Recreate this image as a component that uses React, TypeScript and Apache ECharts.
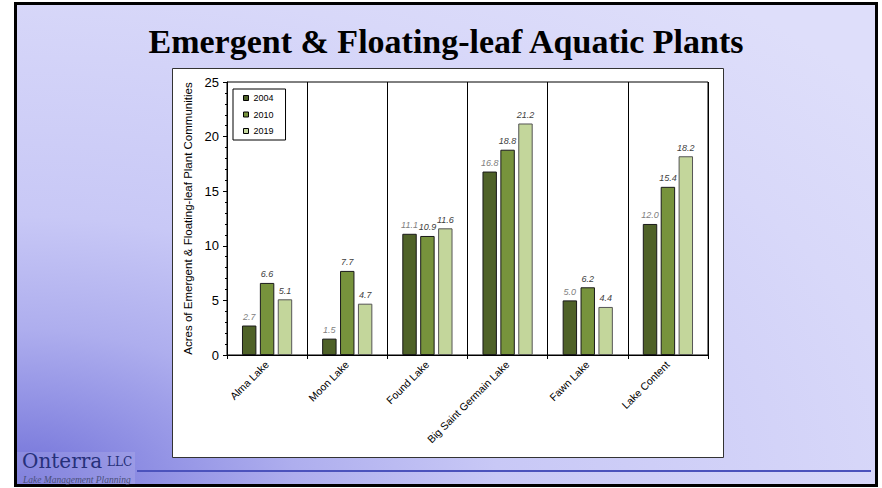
import React, { useEffect, useRef } from "react";
import * as echarts from "echarts";

const categories = [
  "Alma Lake",
  "Moon Lake",
  "Found Lake",
  "Big Saint Germain Lake",
  "Fawn Lake",
  "Lake Content",
];
const seriesNames = ["2004", "2010", "2019"];
const values2004 = [2.7, 1.5, 11.1, 16.8, 5.0, 12.0];
const values2010 = [6.6, 7.7, 10.9, 18.8, 6.2, 15.4];
const values2019 = [5.1, 4.7, 11.6, 21.2, 4.4, 18.2];
const yMin = 0;
const yMax = 25;
const yStep = 5;

const titleText = "Emergent & Floating-leaf Aquatic Plants";
const yAxisTitle = "Acres of Emergent & Floating-leaf Plant Communities";

const SANS = '"Liberation Sans", Arial, sans-serif';

export default function App() {
  const ref = useRef<HTMLDivElement>(null);

  useEffect(() => {
    if (!ref.current) return;
    const chart = echarts.init(ref.current, undefined, { renderer: "svg" });

    const colors = ["#4F6228", "#77933C", "#C3D69B"];
    const labelColors = ["#808080", "#404040", "#404040"];
    const borderColors = ["#1a1a1a", "#1a1a1a", "#555555"];
    const dataSets = [values2004, values2010, values2019];

    const series = seriesNames.map((name, i) => ({
      type: "bar",
      name,
      data: dataSets[i],
      barWidth: "18%",
      barGap: "24%",
      itemStyle: { color: colors[i], borderColor: borderColors[i], borderWidth: 1 },
      label: {
        show: true,
        position: "top",
        distance: 4,
        formatter: (p: any) => Number(p.value).toFixed(1),
        fontSize: 9,
        fontStyle: "italic",
        fontFamily: SANS,
        color: labelColors[i],
      },
    }));

    chart.setOption({
      animation: false,
      backgroundColor: "#ffffff",
      graphic: [
        {
          type: "rect",
          z: -20,
          shape: { x: 15.5, y: 3.5, width: 861, height: 482 },
          style: {
            fill: new echarts.graphic.RadialGradient(0, 1, 1.3, [
              { offset: 0, color: "#7070d8" },
              { offset: 0.15, color: "#9696e6" },
              { offset: 0.25, color: "#aeaeee" },
              { offset: 0.43, color: "#c8c8f6" },
              { offset: 0.8, color: "#d8d8f9" },
              { offset: 1, color: "#dedefa" },
            ]),
            stroke: "#000",
            lineWidth: 3,
          },
        },
        {
          type: "rect",
          z: -19,
          shape: { x: 17, y: 452, width: 118, height: 32 },
          style: { fill: "rgba(255,255,255,0.12)" },
        },
        {
          type: "line",
          z: -18,
          shape: { x1: 137, y1: 471, x2: 871, y2: 471 },
          style: { stroke: "#4b52bc", lineWidth: 2 },
        },
        {
          type: "text",
          z: -18,
          style: {
            text: "Onterra",
            x: 22,
            y: 471,
            textVerticalAlign: "bottom",
            font: '20px "DejaVu Serif", serif',
            fill: "#26307a",
          },
        },
        {
          type: "text",
          z: -18,
          style: {
            text: "LLC",
            x: 107,
            y: 468,
            textVerticalAlign: "bottom",
            font: '12px "DejaVu Serif", serif',
            fill: "#26307a",
          },
        },
        {
          type: "text",
          z: -18,
          style: {
            text: "Lake Management Planning",
            x: 23,
            y: 480,
            textVerticalAlign: "middle",
            font: 'italic 9.5px "Liberation Serif", serif',
            fill: "#4a4f7a",
          },
        },
        {
          type: "text",
          z: -18,
          style: {
            text: titleText,
            x: 446,
            y: 41,
            textAlign: "center",
            textVerticalAlign: "middle",
            font: 'bold 34px "Liberation Serif", serif',
            fill: "#000",
          },
        },
        {
          type: "rect",
          z: -17,
          shape: { x: 172.5, y: 68.5, width: 551, height: 389 },
          style: { fill: "#ffffff", stroke: "#333", lineWidth: 1 },
        },
      ],
      legend: {
        orient: "vertical",
        left: 233,
        top: 89,
        data: seriesNames,
        icon: "rect",
        itemWidth: 5,
        itemHeight: 5,
        itemGap: 4.5,
        padding: [3, 12, 3, 10],
        backgroundColor: "#fff",
        borderColor: "#000",
        borderWidth: 1,
        borderRadius: 0,
        textStyle: { fontSize: 9, fontFamily: SANS, color: "#000", lineHeight: 12 },
        itemStyle: { borderColor: "#000", borderWidth: 1 },
      },
      grid: {
        left: 227,
        right: 174,
        top: 82,
        bottom: 133,
        show: true,
        borderColor: "#000",
        borderWidth: 1,
        backgroundColor: "transparent",
      },
      xAxis: {
        type: "category",
        data: categories,
        axisLine: { lineStyle: { color: "#000", width: 1 } },
        axisTick: { show: true, length: 4, lineStyle: { color: "#000" } },
        splitLine: { show: true, lineStyle: { color: "#000", width: 1 } },
        axisLabel: {
          rotate: 45,
          fontSize: 10.5,
          fontFamily: SANS,
          color: "#000",
          margin: 8,
          interval: 0,
        },
      },
      yAxis: {
        type: "value",
        min: yMin,
        max: yMax,
        interval: yStep,
        name: yAxisTitle,
        nameLocation: "middle",
        nameGap: 24,
        nameTextStyle: { fontSize: 11.5, fontFamily: SANS, color: "#000" },
        axisLine: { show: true, lineStyle: { color: "#000", width: 1 } },
        axisTick: { show: true, length: 4, lineStyle: { color: "#000" } },
        minorTick: { show: true, splitNumber: 5, length: 2, lineStyle: { color: "#000" } },
        splitLine: { show: false },
        axisLabel: { fontSize: 13, fontFamily: SANS, color: "#000", margin: 8 },
      },
      series,
    });

    return () => chart.dispose();
  }, []);

  return (
    <div
      ref={ref}
      style={{ position: "absolute", left: 0, top: 0, width: 882, height: 488 }}
    />
  );
}
